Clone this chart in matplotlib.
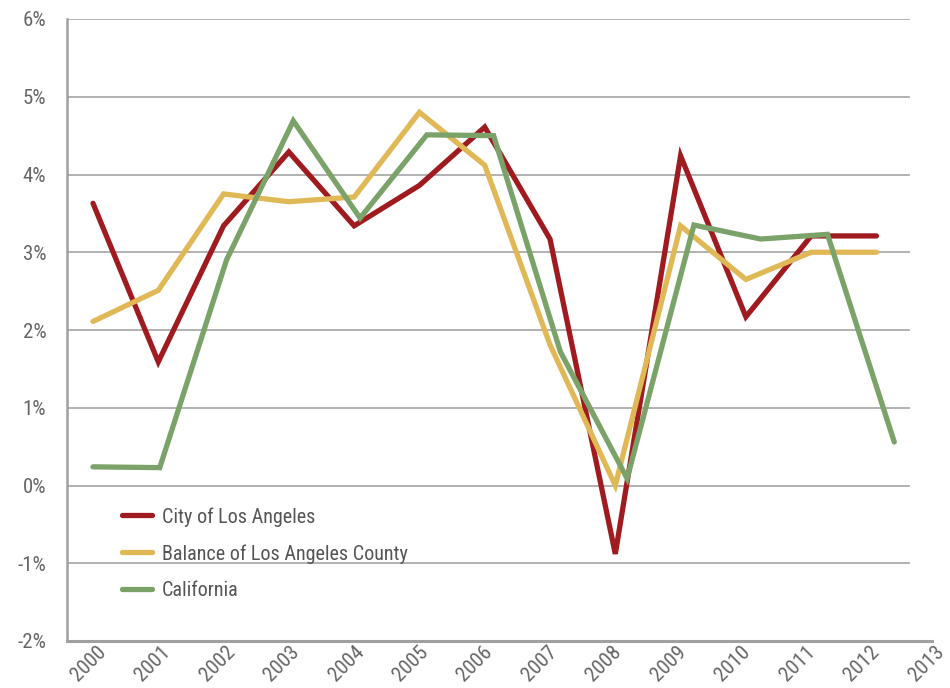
import matplotlib
matplotlib.use("Agg")
import matplotlib.pyplot as plt
import matplotlib.transforms as mtransforms
from matplotlib import font_manager
import numpy as np

# prefer a narrow face if one is installed
names = {f.name for f in font_manager.fontManager.ttflist}
narrow = [n for n in ['Liberation Sans Narrow', 'Roboto Condensed', 'Open Sans Condensed']
          if n in names]
plt.rcParams['font.family'] = narrow + ['DejaVu Sans']
plt.rcParams['font.stretch'] = 'condensed'

# annual growth, percent
years = ['2000', '2001', '2002', '2003', '2004', '2005', '2006',
         '2007', '2008', '2009', '2010', '2011', '2012', '2013']
city_la = [3.63, 1.59, 3.34, 4.29, 3.34, 3.86, 4.61, 3.17, -0.88, 4.24, 2.17, 3.21, 3.21]
balance_county = [2.11, 2.51, 3.75, 3.65, 3.71, 4.80, 4.12, 1.81, 0.0, 3.34, 2.65, 3.0, 3.0]
california = [0.24, 0.23, 2.90, 4.69, 3.44, 4.51, 4.50, 1.72, 0.09, 3.35, 3.17, 3.23, 0.56]

yticks = np.arange(-2, 7)
ytick_labels = ['%d%%' % v for v in yticks]

red = '#A01B20'
gold = '#E1B856'
green = '#7BA369'
grey_txt = '#666666'

fig = plt.figure(figsize=(9.5, 6.88), dpi=100)
ax = fig.add_axes([67 / 950, 1 - 641 / 688, (931.5 - 67) / 950, (641 - 19) / 688])

# series are spread a little wider than the year ticks
x_la = np.arange(len(city_la)) * 1.013
x_ca = np.arange(len(california)) * 1.036

lw = 3.8
ax.plot(x_la, city_la, color=red, lw=lw, solid_capstyle='round', solid_joinstyle='miter',
        label='City of Los Angeles', zorder=3)
ax.plot(x_la, balance_county, color=gold, lw=lw, solid_capstyle='round', solid_joinstyle='miter',
        label='Balance of Los Angeles County', zorder=3)
ax.plot(x_ca, california, color=green, lw=lw, solid_capstyle='round', solid_joinstyle='miter',
        label='California', zorder=3)

ax.set_xlim(-26 / 64.5, 13.01)
ax.set_ylim(-2, 6)

# horizontal grid stops short of the bottom axis line
grid_end = (909 - 67) / (931.5 - 67)
for v in yticks[1:]:
    ax.axhline(v, xmin=0, xmax=grid_end, color='#ababab', lw=1.3, zorder=1)

for side in ['top', 'right']:
    ax.spines[side].set_visible(False)
ax.spines['left'].set_color('#a0a0a0')
ax.spines['left'].set_linewidth(1.8)
ax.spines['bottom'].set_color('#a0a0a0')
ax.spines['bottom'].set_linewidth(2.2)

ax.set_yticks(yticks)
ax.set_yticklabels(ytick_labels)
ax.set_xticks(np.arange(len(years)))
ax.set_xticklabels(years, rotation=45, ha='right', va='center', rotation_mode='anchor')
ax.tick_params(axis='both', length=0, labelsize=15, labelcolor=grey_txt)
ax.tick_params(axis='y', pad=15)
ax.tick_params(axis='x', pad=6)

shift = mtransforms.ScaledTranslation(10 / 100, 0, fig.dpi_scale_trans)
for lab in ax.get_xticklabels():
    lab.set_transform(lab.get_transform() + shift)

leg = ax.legend(loc='upper left', bbox_to_anchor=(55 / 864.5, 0.2154), frameon=False,
                fontsize=14.5, handlelength=1.49, handletextpad=0.5, labelspacing=0.87,
                borderpad=0, borderaxespad=0)
for t in leg.get_texts():
    t.set_color('#555555')

fig.savefig('out.png', dpi=100)
